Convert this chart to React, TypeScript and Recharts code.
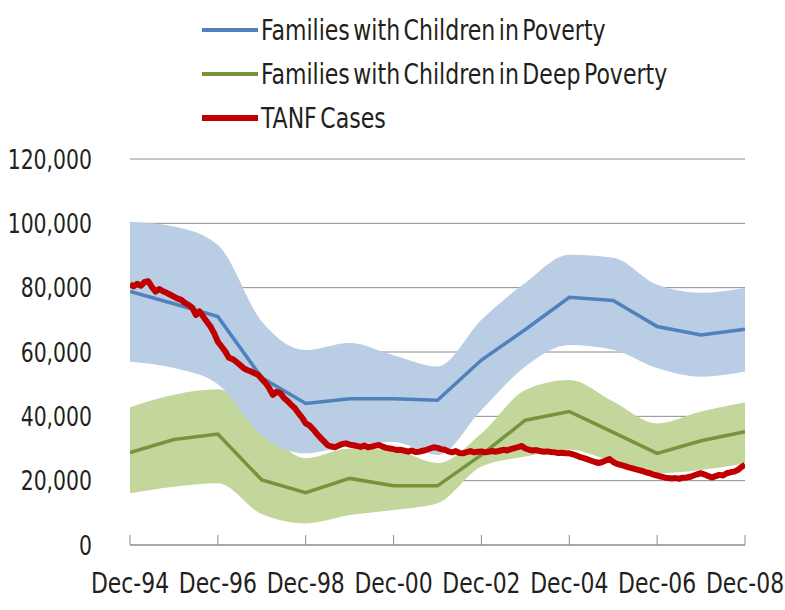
import { ComposedChart, Area, Line, XAxis, YAxis, CartesianGrid, Legend } from 'recharts'

// x positions are months since Dec-94
const TICK_MONTHS = [0, 24, 48, 72, 96, 120, 144, 168]
const TICK_LABELS = ['Dec-94', 'Dec-96', 'Dec-98', 'Dec-00', 'Dec-02', 'Dec-04', 'Dec-06', 'Dec-08']
const Y_TICKS = [0, 20000, 40000, 60000, 80000, 100000, 120000]

// annual estimates (Dec of each year, 1994..2008), thousands of families
const YEAR_MONTHS = [0, 12, 24, 36, 48, 60, 72, 84, 96, 108, 120, 132, 144, 156, 168]
const POVERTY = [78.8, 75, 71, 52, 44, 45.5, 45.5, 45, 57.5, 67, 77, 76, 67.9, 65.3, 67.1]
const POVERTY_HI = [100.5, 99, 93.3, 69.5, 60.6, 62.8, 59, 55.5, 70, 81.5, 90.2, 89.3, 80.9, 78.4, 79.9]
const POVERTY_LO = [57, 55, 50, 34, 28.5, 31, 32, 28, 42, 55.5, 62.2, 60.7, 55, 52.3, 53.9]
const DEEP = [28.7, 32.8, 34.5, 20.2, 16.3, 20.7, 18.4, 18.4, 28, 38.8, 41.5, 35, 28.5, 32.4, 35.2]
const DEEP_HI = [42.8, 46.7, 48.4, 37, 27, 30, 29.5, 25.5, 34.7, 48.2, 51.3, 44.6, 37.8, 41.5, 44.3]
const DEEP_LO = [16.1, 18.1, 19.2, 9.6, 6.7, 9.3, 10.9, 13, 24.4, 27.5, 29.6, 25.9, 22.3, 23.3, 25.4]

// monthly TANF caseload, Dec-94 .. Dec-08, thousands
const TANF = [
  81.0, 80.4, 81.2, 80.6, 81.8, 82.0, 80.2, 78.8, 79.6, 78.9, 78.4, 77.8,
  77.2, 76.6, 76.2, 75.3, 74.6, 73.8, 71.5, 72.6, 71.0, 69.4, 67.9, 65.8,
  63.2, 61.7, 60.2, 58.2, 57.8, 57.0, 56.0, 55.0, 54.4, 54.0, 53.4, 52.9,
  51.6, 50.4, 48.8, 46.7, 47.6, 47.3, 45.8, 44.8, 43.6, 42.6, 41.0, 39.6,
  37.8, 37.2, 36.0, 34.6, 33.4, 32.2, 31.0, 30.6, 30.4, 30.9, 31.4, 31.6,
  31.2, 31.0, 30.8, 30.5, 30.9, 30.4, 30.6, 30.9, 31.1, 30.6, 30.2, 30.0,
  29.8, 29.5, 29.6, 29.3, 29.0, 29.4, 28.9, 29.0, 29.3, 29.6, 30.0, 30.4,
  30.2, 29.8, 29.6, 29.1, 28.8, 29.2, 28.6, 28.5, 28.9, 29.2, 28.8, 29.0,
  29.1, 28.8, 29.0, 29.2, 29.0, 29.3, 29.6, 29.4, 29.8, 30.1, 30.4, 30.8,
  30.0, 29.6, 29.4, 29.5, 29.2, 29.0, 29.1, 28.9, 28.8, 28.6, 28.7, 28.5,
  28.5, 28.2, 27.8, 27.3, 27.0, 26.6, 26.2, 25.8, 25.5, 25.8, 26.3, 26.7,
  25.8, 25.2, 24.9, 24.6, 24.2, 23.9, 23.6, 23.3, 23.0, 22.6, 22.3, 21.9,
  21.6, 21.3, 21.0, 20.8, 20.7, 20.8, 20.6, 20.9, 21.0, 21.2, 21.6, 22.0,
  22.3, 21.9, 21.4, 21.0, 21.4, 21.8, 21.6, 22.3, 22.6, 22.8, 23.3, 24.2,
  25.0,
]

const FONT = "'DejaVu Sans Condensed', 'Liberation Sans Narrow', sans-serif"
const TEXT = '#231f20'
const GRID = '#8c8c8c'
const SQUEEZE = 0.84 // reference font is a narrow condensed face

const yearly = YEAR_MONTHS.map((m, i) => ({
  m,
  pov: POVERTY[i] * 1000,
  povBand: [POVERTY_LO[i] * 1000, POVERTY_HI[i] * 1000],
  deep: DEEP[i] * 1000,
  deepBand: [DEEP_LO[i] * 1000, DEEP_HI[i] * 1000],
}))
const monthly = TANF.map((v, i) => ({ m: i, tanf: v * 1000 }))

const LEGEND = [
  { label: 'Families with Children in Poverty', color: '#4f81bd', w: 4 },
  { label: 'Families with Children in Deep Poverty', color: '#77933c', w: 4 },
  { label: 'TANF Cases', color: '#c00000', w: 6 },
]

function LegendBox() {
  return (
    <div style={{ fontFamily: FONT, fontSize: 28, color: TEXT, wordSpacing: -4 }}>
      {LEGEND.map((l) => (
        <div key={l.label} style={{ display: 'flex', alignItems: 'center', height: 44 }}>
          <span style={{ display: 'inline-block', width: 56, height: l.w, background: l.color, marginRight: 3 }} />
          <span style={{ display: 'inline-block', transform: 'scaleX(0.875)', transformOrigin: 'left center', whiteSpace: 'nowrap' }}>{l.label}</span>
        </div>
      ))}
    </div>
  )
}

function XTick({ x, y, payload }: any) {
  const label = TICK_LABELS[TICK_MONTHS.indexOf(payload.value)]
  return (
    <g>
      <line x1={x} x2={x} y1={y} y2={y - 10} stroke={GRID} strokeWidth={1} />
      <text transform={`translate(${x},${y + 48}) scale(${SQUEEZE},1)`} textAnchor="middle" fontFamily={FONT} fontSize={29} fill={TEXT}>{label}</text>
    </g>
  )
}

function YTick({ x, y, payload }: any) {
  return (
    <text transform={`translate(${x},${y}) scale(${SQUEEZE},1)`} dy="0.36em" textAnchor="end" fontFamily={FONT} fontSize={27} fill={TEXT}>
      {payload.value.toLocaleString('en-US')}
    </text>
  )
}

export default function App() {
  return (
    <div style={{ position: 'absolute', left: 0, top: 0, background: '#fff' }}>
      <ComposedChart width={785} height={610} margin={{ top: 159, right: 40, bottom: 35, left: 0 }}>
        <CartesianGrid horizontal vertical={false} stroke={GRID} strokeWidth={1} />
        <XAxis
          type="number" dataKey="m" domain={[0, 168]} ticks={TICK_MONTHS} allowDataOverflow
          height={30} tickSize={0} tickMargin={0} tickLine={false} axisLine={{ stroke: GRID }}
          tick={(p: any) => <XTick {...p} />} interval={0}
        />
        <YAxis
          domain={[0, 120000]} ticks={Y_TICKS} width={130} axisLine={false} tickLine={false}
          tickSize={0} tickMargin={38} tick={(p: any) => <YTick {...p} />} interval={0}
        />
        <Area data={yearly} dataKey="deepBand" type="monotone" fill="#c3d69b" fillOpacity={1} stroke="none" isAnimationActive={false} />
        <Area data={yearly} dataKey="povBand" type="monotone" fill="#b9cde5" fillOpacity={1} stroke="none" isAnimationActive={false} />
        <Line data={yearly} dataKey="deep" type="linear" stroke="#77933c" strokeWidth={3.5} dot={false} isAnimationActive={false} />
        <Line data={yearly} dataKey="pov" type="linear" stroke="#4f81bd" strokeWidth={3.5} dot={false} isAnimationActive={false} />
        <Line data={monthly} dataKey="tanf" type="linear" stroke="#c00000" strokeWidth={6} dot={false} strokeLinejoin="round" isAnimationActive={false} />
        <Legend
          layout="horizontal" verticalAlign="middle" align="center"
          wrapperStyle={{ top: 8, left: 202, width: 560 }}
          content={() => <LegendBox />}
        />
      </ComposedChart>
    </div>
  )
}
